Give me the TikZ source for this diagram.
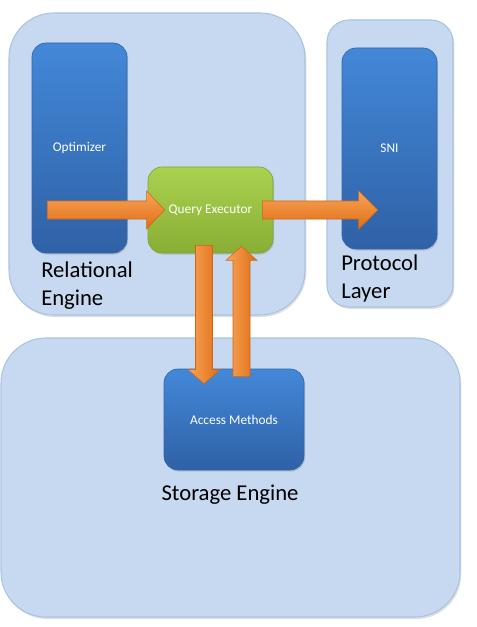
\documentclass[tikz,border=0pt]{standalone}
\usepackage{fontspec}
\setmainfont{Carlito}
\usetikzlibrary{calc,shadows}
\newcommand\pxu{0.75pt}
\definecolor{contfill}{HTML}{C6D9F0}
\definecolor{contedge}{HTML}{A9C3E3}
\definecolor{bluetop}{HTML}{4388D8}
\definecolor{bluebot}{HTML}{2F61A6}
\definecolor{blueedge}{HTML}{3565A8}
\definecolor{greentop}{HTML}{ABD150}
\definecolor{greenbot}{HTML}{88AF34}
\definecolor{greenedge}{HTML}{7FA232}
\definecolor{orlight}{HTML}{FAA555}
\definecolor{ordark}{HTML}{DE6D18}
\definecolor{oredge}{HTML}{CF6614}
\tikzset{
  container/.style={draw=contedge, line width=0.8pt, fill=contfill,
    drop shadow={shadow xshift=1pt, shadow yshift=-1.5pt, opacity=0.25},
    inner sep=0pt},
  bluebox/.style={draw=blueedge, line width=0.5pt, top color=bluetop, bottom color=bluebot,
    rounded corners=14*\pxu, text=white, font=\fontsize{10}{12}\selectfont, inner sep=0pt,
    drop shadow={shadow xshift=0.8pt, shadow yshift=-1.2pt, opacity=0.3}},
  greenbox/.style={draw=greenedge, line width=0.5pt, top color=greentop, bottom color=greenbot,
    rounded corners=14*\pxu, text=white, font=\fontsize{10}{12}\selectfont, inner sep=0pt,
    drop shadow={shadow xshift=0.8pt, shadow yshift=-1.2pt, opacity=0.3}},
  biglabel/.style={font=\fontsize{17}{21}\selectfont, text=black, inner sep=0pt},
  harrow/.style={draw=oredge, line width=0.4pt, top color=orlight, bottom color=ordark},
  varrow/.style={draw=oredge, line width=0.4pt, left color=orlight, right color=ordark},
}
\begin{document}
\begin{tikzpicture}[x=\pxu, y=-\pxu]
\useasboundingbox[fill=white] (0,0) rectangle (476,627);

% containers
\node[container, rounded corners=45*\pxu, minimum width=296*\pxu, minimum height=302*\pxu] (rel) at (157,164) {};
\node[container, rounded corners=22*\pxu, minimum width=126*\pxu, minimum height=287*\pxu] (prot) at (390,163.5) {};
\node[container, rounded corners=45*\pxu, minimum width=459*\pxu, minimum height=279*\pxu] (stor) at (230.5,477.5) {};

% inner boxes
\node[bluebox, minimum width=95*\pxu, minimum height=210*\pxu] (opt) at (79.5,148) {Optimizer};
\node[bluebox, minimum width=95*\pxu, minimum height=201*\pxu] (sni) at (389.5,148.5) {SNI};
\node[greenbox, minimum width=125*\pxu, minimum height=86*\pxu] (qe) at (210.5,210) {Query Executor};
\node[bluebox, minimum width=140*\pxu, minimum height=101*\pxu] (am) at (234,419.5) {Access Methods};

% labels
\node[biglabel, anchor=west, align=left] (rellab) at (41,286) {Relational\\Engine};
\node[biglabel, anchor=west, align=left] (protlab) at (341,278.5) {Protocol\\Layer};
\node[biglabel] (storlab) at (230,494.5) {Storage Engine};

% block arrows
\coordinate (a1s) at ($(opt.west |- qe.west)+(16,0)$);
\coordinate (a1t) at ($(qe.west)+(17,0)$);
\shade[harrow] ($(a1s)+(0,-9)$) -- ($(a1t)+(-18,-9)$) -- ($(a1t)+(-18,-19)$) -- (a1t)
  -- ($(a1t)+(-18,19)$) -- ($(a1t)+(-18,9)$) -- ($(a1s)+(0,9)$) -- cycle;

\coordinate (a2s) at ($(qe.east)+(-11,0)$);
\coordinate (a2t) at ($(sni.west |- qe.east)+(36,0)$);
\shade[harrow] ($(a2s)+(0,-9)$) -- ($(a2t)+(-19,-9)$) -- ($(a2t)+(-19,-19)$) -- (a2t)
  -- ($(a2t)+(-19,19)$) -- ($(a2t)+(-19,9)$) -- ($(a2s)+(0,9)$) -- cycle;

\coordinate (a3s) at ($(qe.south)+(-6.5,-8)$);
\coordinate (a3t) at ($(am.north)+(-30,15)$);
\shade[varrow] ($(a3s)+(-8.5,0)$) -- ($(a3t)+(-8.5,-14)$) -- ($(a3t)+(-16,-14)$) -- (a3t)
  -- ($(a3t)+(16,-14)$) -- ($(a3t)+(8.5,-14)$) -- ($(a3s)+(8.5,0)$) -- cycle;

\coordinate (a4s) at ($(am.north)+(7.5,8)$);
\coordinate (a4t) at ($(qe.south)+(31,-7)$);
\shade[varrow] ($(a4s)+(-8.5,0)$) -- ($(a4t)+(-8.5,14)$) -- ($(a4t)+(-15.5,14)$) -- (a4t)
  -- ($(a4t)+(15.5,14)$) -- ($(a4t)+(8.5,14)$) -- ($(a4s)+(8.5,0)$) -- cycle;
\end{tikzpicture}
\end{document}
